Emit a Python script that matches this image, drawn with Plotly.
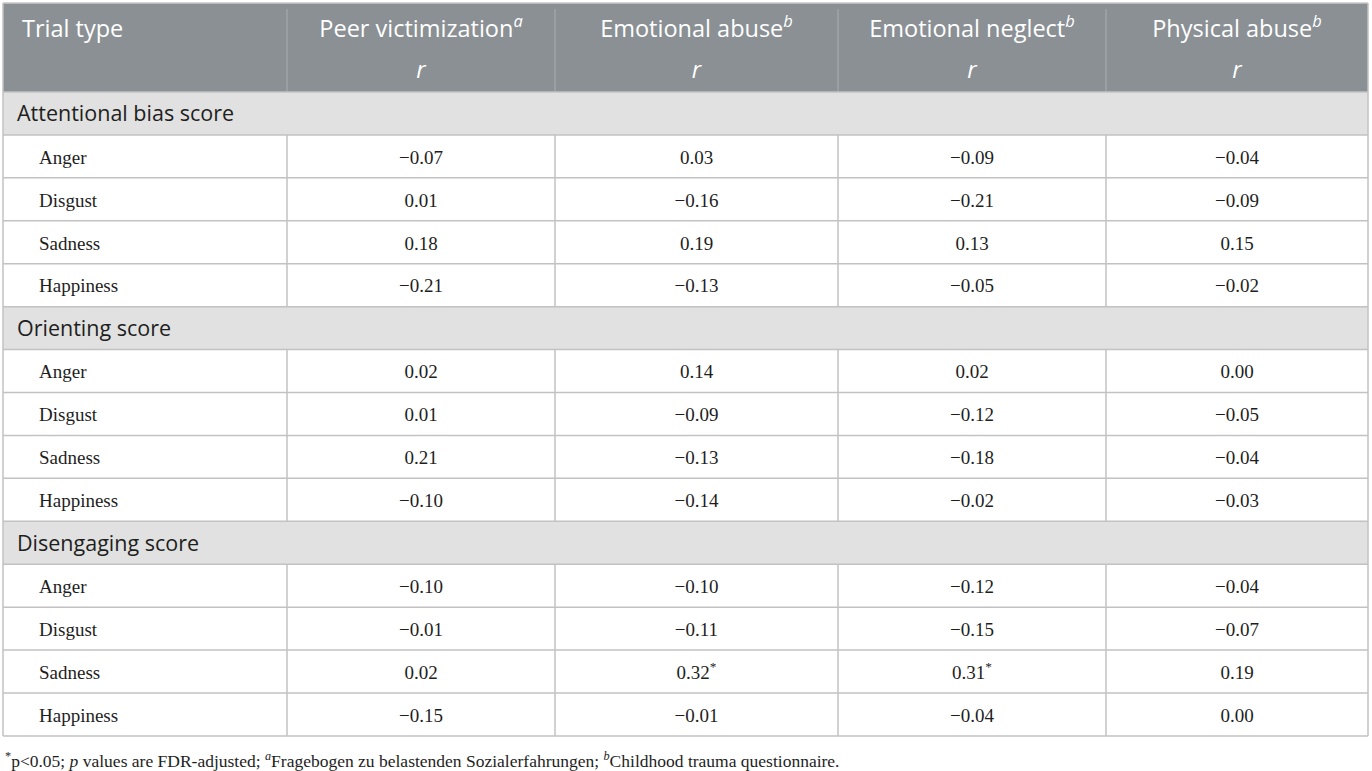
import plotly.graph_objects as go

# table content
sections = ["Attentional bias score", "Orienting score", "Disengaging score"]
trial_types = ["Anger", "Disgust", "Sadness", "Happiness"]
measures = ["Peer victimization", "Emotional abuse", "Emotional neglect", "Physical abuse"]
measure_notes = ["a", "b", "b", "b"]

# r values, 12 rows each (3 sections x 4 trial types)
peer_victimization = [-0.07, 0.01, 0.18, -0.21, 0.02, 0.01, 0.21, -0.10, -0.10, -0.01, 0.02, -0.15]
emotional_abuse = [0.03, -0.16, 0.19, -0.13, 0.14, -0.09, -0.13, -0.14, -0.10, -0.11, 0.32, -0.01]
emotional_neglect = [-0.09, -0.21, 0.13, -0.05, 0.02, -0.12, -0.18, -0.02, -0.12, -0.15, 0.31, -0.04]
physical_abuse = [-0.04, -0.09, 0.15, -0.02, 0.00, -0.05, -0.04, -0.03, -0.04, -0.07, 0.19, 0.00]
# (row, measure) pairs with p<0.05
significant = [(10, 1), (10, 2)]

series = [peer_victimization, emotional_abuse, emotional_neglect, physical_abuse]

footnote = ("<sup>*</sup>p<0.05; <i>p</i> values are FDR-adjusted; <sup><i>a</i></sup>Fragebogen zu "
            "belastenden Sozialerfahrungen; <sup><i>b</i></sup>Childhood trauma questionnaire.")

# geometry (pixels)
W, H = 1372, 771
col_edges = [3, 287, 555, 838, 1106, 1368]
top = 3
head_h = 89
row_h = 42.93
table_bottom = top + head_h + row_h * 15
txt_dy = 2.5  # nudge text down to sit like the original

HEAD_BG = "#8a9094"
SEC_BG = "#e0e1e0"
GRID = "#c2c2c2"
SANS = "Open Sans"
SERIF = "Liberation Serif"
INK = "#1e1e1e"


def fmt(v):
    return f"{v:.2f}".replace("-", "\u2212")


shapes = []
# header band
shapes.append(dict(type="rect", x0=col_edges[0], x1=col_edges[-1], y0=top, y1=top + head_h,
                   fillcolor=HEAD_BG, line_width=0, layer="below"))
for xe in col_edges[1:-1]:
    shapes.append(dict(type="line", x0=xe, x1=xe, y0=top + 6, y1=top + head_h,
                       line=dict(color="#a4a9ac", width=1.2), layer="below"))

# body rows
sec_y, sec_txt = [], []
lab_y, lab_txt = [], []
val_x, val_y, val_txt = [], [], []
r = 0
data_i = 0
for s, sec in enumerate(sections):
    y0 = top + head_h + r * row_h
    shapes.append(dict(type="rect", x0=col_edges[0], x1=col_edges[-1], y0=y0, y1=y0 + row_h,
                       fillcolor=SEC_BG, line_width=0, layer="below"))
    sec_y.append(y0 + row_h / 2 + txt_dy)
    sec_txt.append(sec)
    r += 1
    for t, tt in enumerate(trial_types):
        y0 = top + head_h + r * row_h
        for xe in col_edges[1:-1]:
            shapes.append(dict(type="line", x0=xe, x1=xe, y0=y0, y1=y0 + row_h,
                               line=dict(color=GRID, width=1.5), layer="below"))
        lab_y.append(y0 + row_h / 2 + txt_dy)
        lab_txt.append(tt)
        for m, vals in enumerate(series):
            txt = fmt(vals[data_i])
            if (data_i, m) in significant:
                txt += "<sup>*</sup>"
            val_x.append((col_edges[m + 1] + col_edges[m + 2]) / 2)
            val_y.append(y0 + row_h / 2 + txt_dy)
            val_txt.append(txt)
        data_i += 1
        r += 1

# horizontal rules
for i in range(16):
    y = top + head_h + i * row_h
    shapes.append(dict(type="line", x0=col_edges[0], x1=col_edges[-1], y0=y, y1=y,
                       line=dict(color=GRID, width=1.5), layer="below"))
shapes.append(dict(type="line", x0=col_edges[0], x1=col_edges[-1], y0=top, y1=top,
                   line=dict(color="#c8c8c8", width=1.5), layer="below"))
# outer sides
for xe in (col_edges[0], col_edges[-1]):
    shapes.append(dict(type="line", x0=xe, x1=xe, y0=top, y1=table_bottom,
                       line=dict(color=GRID, width=1.5), layer="below"))

fig = go.Figure()

centers = [(col_edges[i] + col_edges[i + 1]) / 2 for i in range(1, 5)]
head_txt = [f"{m}<sup><i>{n}</i></sup>" for m, n in zip(measures, measure_notes)]
fig.add_trace(go.Scatter(x=centers, y=[top + 28] * 4, text=head_txt, mode="text",
                         textposition="middle center",
                         textfont=dict(family=SANS, size=23.5, color="white")))
fig.add_trace(go.Scatter(x=centers, y=[top + 69.5] * 4, text=["<i>r</i>"] * 4, mode="text",
                         textposition="middle center",
                         textfont=dict(family=SANS, size=23.5, color="white")))
fig.add_trace(go.Scatter(x=[22], y=[top + 28], text=["Trial type"], mode="text",
                         textposition="middle right",
                         textfont=dict(family=SANS, size=23.5, color="white")))
fig.add_trace(go.Scatter(x=[17] * len(sec_y), y=sec_y, text=sec_txt, mode="text",
                         textposition="middle right",
                         textfont=dict(family=SANS, size=21.5, color=INK)))
fig.add_trace(go.Scatter(x=[39] * len(lab_y), y=lab_y, text=lab_txt, mode="text",
                         textposition="middle right",
                         textfont=dict(family=SERIF, size=19, color=INK)))
fig.add_trace(go.Scatter(x=val_x, y=val_y, text=val_txt, mode="text",
                         textposition="middle center",
                         textfont=dict(family=SERIF, size=19, color=INK)))

fig.add_annotation(x=col_edges[0], y=760, text=footnote, showarrow=False,
                   xanchor="left", yanchor="middle",
                   font=dict(family=SERIF, size=17.5, color=INK))

fig.update_layout(
    width=W, height=H,
    margin=dict(l=0, r=0, t=0, b=0),
    paper_bgcolor="white", plot_bgcolor="white",
    showlegend=False,
    shapes=shapes,
    xaxis=dict(range=[0, W], visible=False, fixedrange=True),
    yaxis=dict(range=[H, 0], visible=False, fixedrange=True),
)

fig.write_html("out.html", config={"displayModeBar": False},
               post_script="document.body.style.margin='0';document.body.style.overflow='hidden';")
